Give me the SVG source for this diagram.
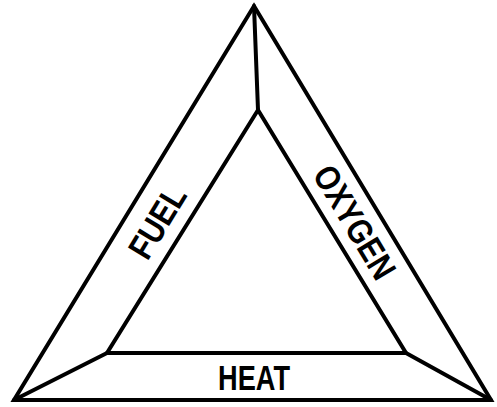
<svg xmlns="http://www.w3.org/2000/svg" width="497" height="407" viewBox="0 0 497 407">
<style>
.ln{fill:none;stroke:#000;stroke-width:4;stroke-linejoin:miter;stroke-linecap:round}
.lb{font-family:"Liberation Sans",Arial,sans-serif;font-weight:bold;font-size:35px;fill:#000;text-anchor:middle}
</style>
<rect width="497" height="407" fill="#fff"/>
<g id="connectors">
<polygon class="ln" points="254,6 491,400 14,400"/>
<polygon class="ln" points="258,110 406,353 107,353"/>
<line class="ln" x1="254" y1="6" x2="258" y2="110"/>
<line class="ln" x1="14" y1="400" x2="107" y2="353"/>
<line class="ln" x1="491" y1="400" x2="406" y2="353"/>
</g>
<g id="fuel">
<text class="lb" transform="translate(157,222) rotate(-58.8)" y="12.5" textLength="78" lengthAdjust="spacingAndGlyphs">FUEL</text>
</g>
<g id="oxygen">
<text class="lb" transform="translate(355,222) rotate(59)" y="12.5" textLength="126" lengthAdjust="spacingAndGlyphs">OXYGEN</text>
</g>
<g id="heat">
<text class="lb" x="254" y="390" textLength="72" lengthAdjust="spacingAndGlyphs">HEAT</text>
</g>
</svg>
